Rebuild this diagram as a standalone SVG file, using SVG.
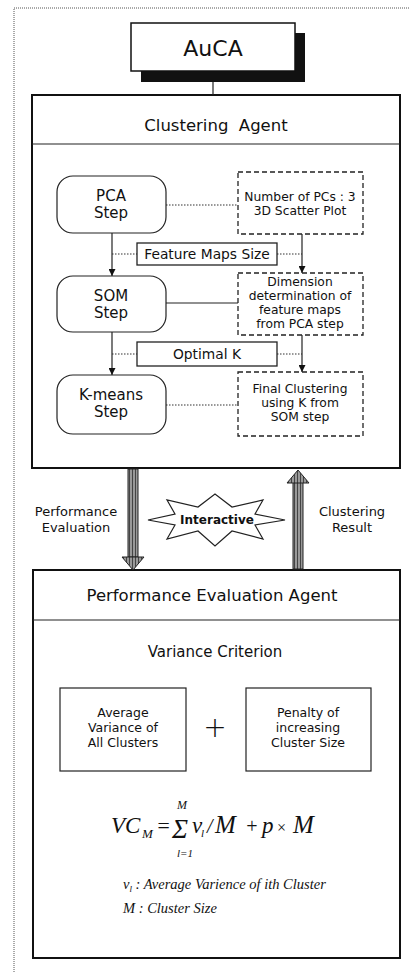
<svg xmlns="http://www.w3.org/2000/svg" width="409" height="973" viewBox="0 0 409 973">
<style>
  .sans{font-family:"DejaVu Sans","Verdana","Liberation Sans",sans-serif;fill:#111;text-anchor:middle}
  .serif{font-family:"Liberation Serif","Times New Roman",serif;fill:#111;font-style:italic}
  .agent{fill:#fff;stroke:#111;stroke-width:2}
  .step{fill:#fff;stroke:#222;stroke-width:1.2}
  .dash{fill:#fff;stroke:#222;stroke-width:1.3;stroke-dasharray:5,3}
  .lbl{fill:#fff;stroke:#222;stroke-width:1.3}
  .plain{fill:#fff;stroke:#222;stroke-width:1.2}
  .ln{stroke:#222;stroke-width:1.2;fill:none}
  .dot{stroke:#333;stroke-width:1.2;fill:none;stroke-dasharray:1.5,1.5}
  .big{fill:url(#hatch);stroke:#222;stroke-width:1}
</style>
<defs>
  <marker id="ah" viewBox="0 0 10 10" refX="10" refY="5" markerWidth="7" markerHeight="7" markerUnits="userSpaceOnUse" orient="auto">
    <path d="M0,0 L10,5 L0,10 z" fill="#111"/>
  </marker>
  <pattern id="hatch" width="3" height="4" patternUnits="userSpaceOnUse">
    <rect width="3" height="4" fill="#999"/>
    <rect width="1" height="4" fill="#444"/>
  </pattern>
</defs>

<rect x="14" y="8" width="420" height="990" fill="none" stroke="#555" stroke-width="1" stroke-dasharray="1,1"/>

<g id="clustering-agent">
  <rect class="agent" x="32" y="95" width="368" height="373"/>
  <line class="ln" x1="32" y1="144" x2="400" y2="144" stroke-width="2"/>
  <text class="sans" x="216" y="131" font-size="16.5" xml:space="preserve">Clustering  Agent</text>
</g>

<g id="performance-agent">
  <rect class="agent" x="33" y="570" width="367" height="388"/>
  <line class="ln" x1="33" y1="620" x2="400" y2="620" stroke-width="1.5"/>
  <text class="sans" x="212" y="601" font-size="16.5">Performance Evaluation Agent</text>
  <text class="sans" x="215" y="657" font-size="15">Variance Criterion</text>
</g>

<g id="connectors">
  <line class="ln" x1="213" y1="82" x2="213" y2="95" stroke-width="2"/>
  <line class="dot" x1="166" y1="205" x2="238" y2="205"/>
  <line class="ln" x1="112" y1="233" x2="112" y2="276" marker-end="url(#ah)"/>
  <line class="dot" x1="112" y1="254" x2="137" y2="254"/>
  <line class="dot" x1="277" y1="254" x2="302" y2="254"/>
  <line class="ln" x1="302" y1="234" x2="302" y2="273" marker-end="url(#ah)"/>
  <line class="ln" x1="166" y1="303" x2="238" y2="303"/>
  <line class="ln" x1="112" y1="332" x2="112" y2="375" marker-end="url(#ah)"/>
  <line class="dot" x1="112" y1="354" x2="137" y2="354"/>
  <line class="dot" x1="277" y1="354" x2="302" y2="354"/>
  <line class="ln" x1="302" y1="335" x2="302" y2="372" marker-end="url(#ah)"/>
  <line class="dot" x1="166" y1="405" x2="238" y2="405"/>
  <g id="arrow-perf">
    <rect class="big" x="128" y="469" width="10" height="88"/>
    <polygon class="big" points="122,557 144,557 133,570"/>
  </g>
  <g id="arrow-result">
    <rect class="big" x="293" y="482" width="10" height="87"/>
    <polygon class="big" points="287,483 309,483 298,470"/>
  </g>
  <text class="sans" x="76" y="516" font-size="13">Performance</text>
  <text class="sans" x="76" y="532" font-size="13">Evaluation</text>
  <text class="sans" x="352" y="516" font-size="13">Clustering</text>
  <text class="sans" x="352" y="532" font-size="13">Result</text>
</g>

<g id="auca">
  <rect x="141" y="33" width="164" height="49" fill="#111"/>
  <rect x="131" y="23" width="164" height="48" fill="#fff" stroke="#111" stroke-width="1.5"/>
  <text class="sans" x="213" y="56" font-size="22">AuCA</text>
</g>

<g id="pca-step">
  <rect class="step" x="57" y="176" width="109" height="57" rx="16"/>
  <text class="sans" x="111" y="201" font-size="15">PCA</text>
  <text class="sans" x="111" y="218" font-size="15">Step</text>
</g>
<g id="som-step">
  <rect class="step" x="57" y="276" width="109" height="56" rx="16"/>
  <text class="sans" x="111" y="301" font-size="15">SOM</text>
  <text class="sans" x="111" y="318" font-size="15">Step</text>
</g>
<g id="kmeans-step">
  <rect class="step" x="57" y="375" width="109" height="59" rx="16"/>
  <text class="sans" x="111" y="400" font-size="15">K-means</text>
  <text class="sans" x="111" y="417" font-size="15">Step</text>
</g>

<g id="pcs-note">
  <rect class="dash" x="238" y="172" width="125" height="62"/>
  <text class="sans" x="300" y="201" font-size="12.3">Number of PCs : 3</text>
  <text class="sans" x="300" y="215" font-size="12.3">3D Scatter Plot</text>
</g>
<g id="dimension-note">
  <rect class="dash" x="238" y="273" width="125" height="62"/>
  <text class="sans" x="300" y="286" font-size="12.3">Dimension</text>
  <text class="sans" x="300" y="300" font-size="12.3">determination of</text>
  <text class="sans" x="300" y="314" font-size="12.3">feature maps</text>
  <text class="sans" x="300" y="328" font-size="12.3">from PCA step</text>
</g>
<g id="final-note">
  <rect class="dash" x="238" y="372" width="125" height="64"/>
  <text class="sans" x="300" y="393" font-size="12.3">Final Clustering</text>
  <text class="sans" x="300" y="407" font-size="12.3">using K from</text>
  <text class="sans" x="300" y="421" font-size="12.3">SOM step</text>
</g>

<g id="feature-maps-size">
  <rect class="lbl" x="137" y="243" width="140" height="22"/>
  <text class="sans" x="207" y="259" font-size="13.8">Feature Maps Size</text>
</g>
<g id="optimal-k">
  <rect class="lbl" x="137" y="342" width="140" height="24"/>
  <text class="sans" x="207" y="359" font-size="13.8">Optimal K</text>
</g>

<g id="interactive">
  <polygon points="285,520 255,525 263,539 232,531 215,546 198,531 167,539 175,525 148,520 175,514 167,500 198,507 215,494 232,507 263,500 255,514" fill="#fff" stroke="#222" stroke-width="1.2"/>
  <text class="sans" x="217" y="524" font-size="12" font-weight="bold">Interactive</text>
</g>

<g id="avg-variance">
  <rect class="plain" x="60" y="688" width="126" height="83"/>
  <text class="sans" x="123" y="717" font-size="12.5">Average</text>
  <text class="sans" x="123" y="732" font-size="12.5">Variance of</text>
  <text class="sans" x="123" y="747" font-size="12.5">All Clusters</text>
</g>
<text class="sans" x="215" y="737" font-size="28" font-weight="300">+</text>
<g id="penalty">
  <rect class="plain" x="246" y="688" width="125" height="83"/>
  <text class="sans" x="308" y="717" font-size="12.5">Penalty of</text>
  <text class="sans" x="308" y="732" font-size="12.5">increasing</text>
  <text class="sans" x="308" y="747" font-size="12.5">Cluster Size</text>
</g>

<g id="formula">
  <text class="serif" x="111" y="833" font-size="23">VC</text>
  <text class="serif" x="142" y="838" font-size="13">M</text>
  <text class="serif" x="156" y="833" font-size="22" font-style="normal">=</text>
  <text class="serif" x="172" y="838" font-size="27" font-style="normal">Σ</text>
  <text class="serif" x="177" y="809" font-size="12">M</text>
  <text class="serif" x="177" y="857" font-size="11">l=1</text>
  <text class="serif" x="192" y="833" font-size="23">v</text>
  <text class="serif" x="201" y="837" font-size="11">l</text>
  <text class="serif" x="207" y="833" font-size="20">/</text>
  <text class="serif" x="215" y="833" font-size="25">M</text>
  <text class="serif" x="245" y="833" font-size="20" font-style="normal">+</text>
  <text class="serif" x="262" y="833" font-size="23">p</text>
  <text class="serif" x="276" y="833" font-size="16" font-style="normal">×</text>
  <text class="serif" x="293" y="833" font-size="25">M</text>
  <text class="serif" x="123" y="889" font-size="14.5">v<tspan font-size="9" dy="3">l</tspan><tspan dy="-3"> : Average Varience of ith Cluster</tspan></text>
  <text class="serif" x="123" y="913" font-size="14.5">M : Cluster Size</text>
</g>
</svg>
